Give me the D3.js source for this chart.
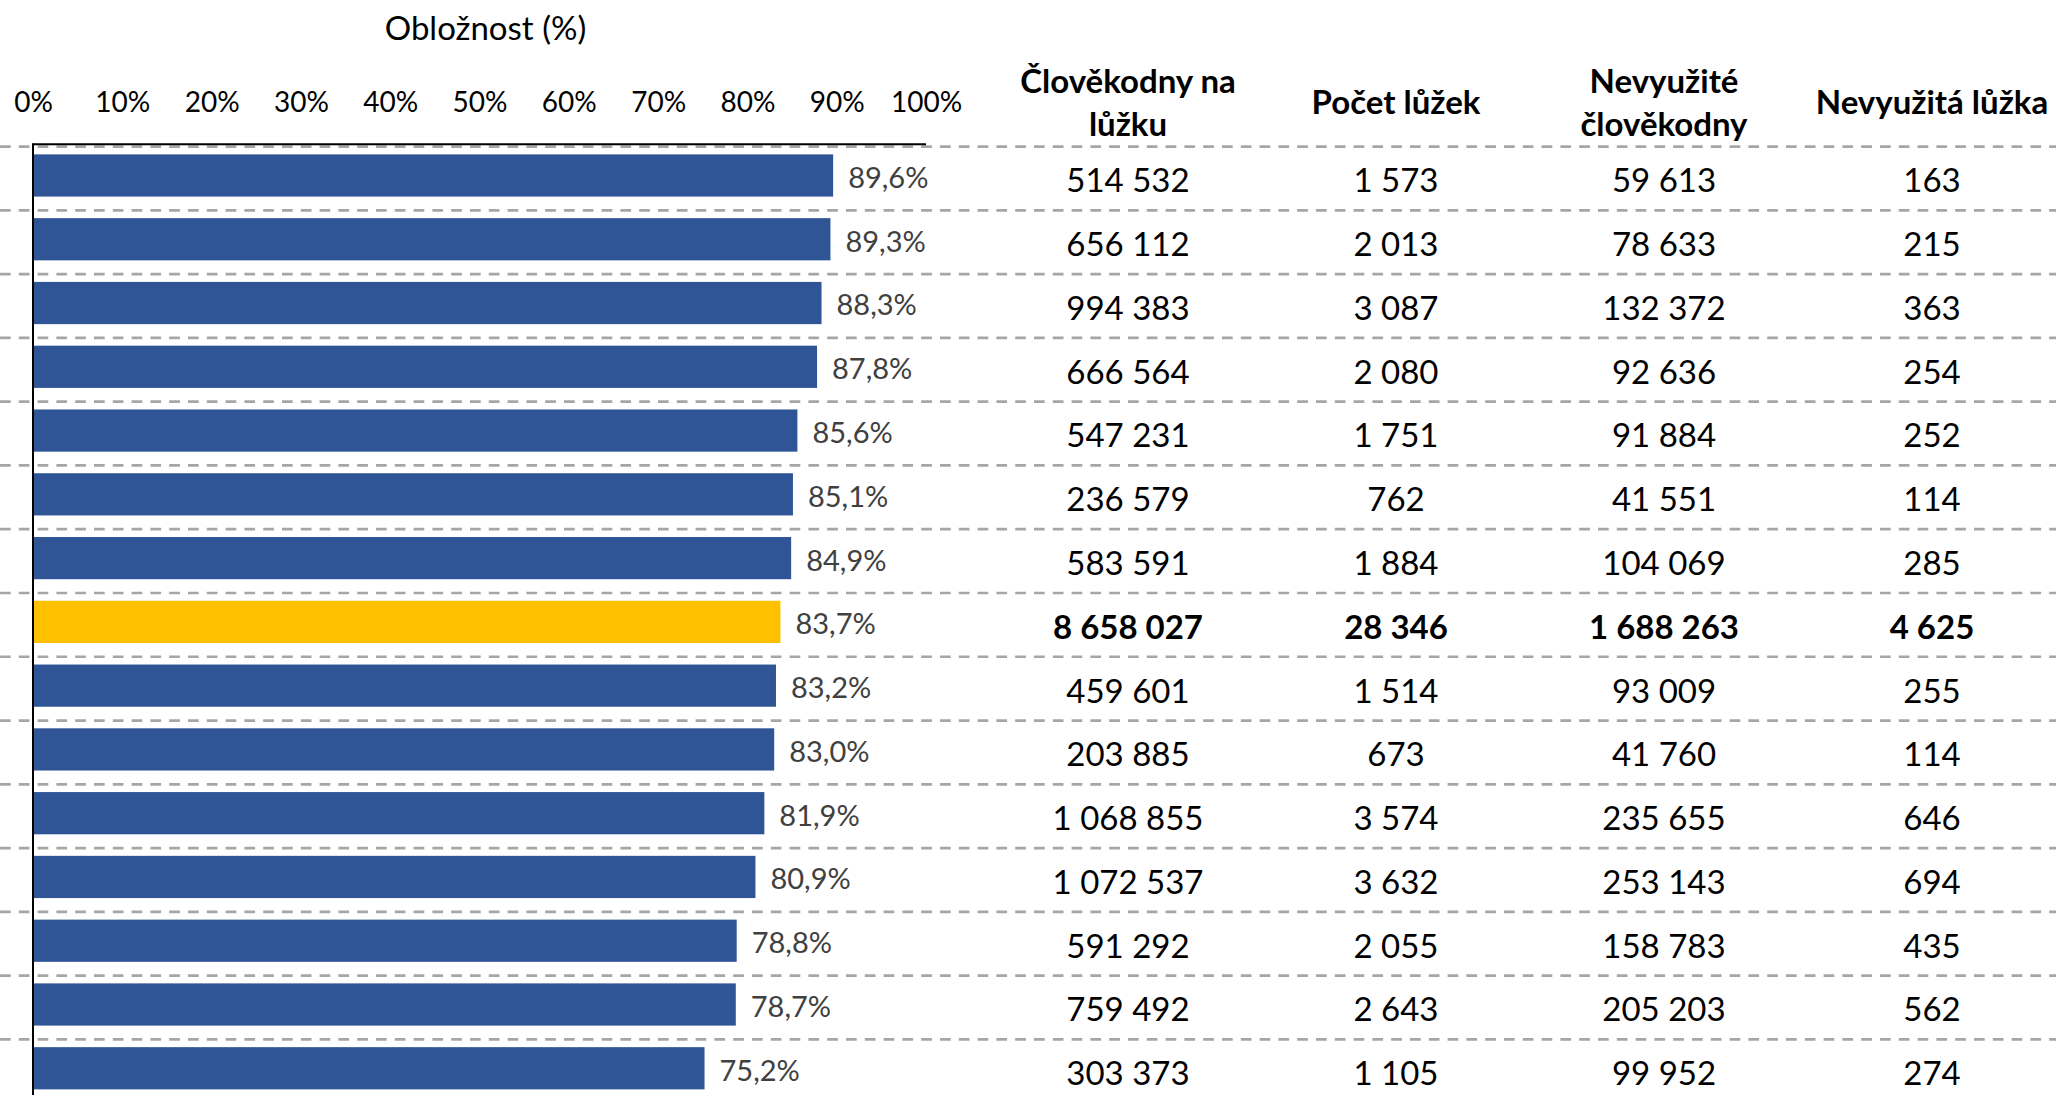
<!DOCTYPE html>
<html>
<head>
<meta charset="utf-8">
<script src="https://cdn.jsdelivr.net/npm/d3@7"></script>
<style>
  body { margin: 0; background: #fff; }
  svg { display: block; font-family: Lato, "Open Sans", sans-serif; }
</style>
</head>
<body>
<svg width="2056" height="1095"></svg>
<script>
// rows of the table (names are not shown in the picture), index 7 is the total
var radky = ["r1", "r2", "r3", "r4", "r5", "r6", "r7", "celkem", "r9", "r10", "r11", "r12", "r13", "r14", "r15"];
var oblozenost = [89.6, 89.3, 88.3, 87.8, 85.6, 85.1, 84.9, 83.7, 83.2, 83.0, 81.9, 80.9, 78.8, 78.7, 75.2];
var clovekodny = [514532, 656112, 994383, 666564, 547231, 236579, 583591, 8658027, 459601, 203885, 1068855, 1072537, 591292, 759492, 303373];
var pocetLuzek = [1573, 2013, 3087, 2080, 1751, 762, 1884, 28346, 1514, 673, 3574, 3632, 2055, 2643, 1105];
var nevyuziteCd = [59613, 78633, 132372, 92636, 91884, 41551, 104069, 1688263, 93009, 41760, 235655, 253143, 158783, 205203, 99952];
var nevyuzitaLuzka = [163, 215, 363, 254, 252, 114, 285, 4625, 255, 114, 646, 694, 435, 562, 274];
var celkem = "celkem";

var xTicks = [0, 10, 20, 30, 40, 50, 60, 70, 80, 90, 100];
var sloupce = [["Člověkodny na", "lůžku"], ["Počet lůžek"], ["Nevyužité", "člověkodny"], ["Nevyužitá lůžka"]];
var hodnoty = [clovekodny, pocetLuzek, nevyuziteCd, nevyuzitaLuzka];

var svg = d3.select("svg");
var W = 2056, H = 1095;

var x = d3.scaleLinear()
    .domain([0, 100])
    .range([33, 926]);

var y = d3.scaleBand()
    .domain(radky)
    .range([143.6, 143.6 + 15 * 63.77])
    .paddingInner(0.338)
    .paddingOuter(0.169);

var col = d3.scalePoint()
    .domain(d3.range(sloupce.length))
    .range([1128, 1932]);

// thousands separated by space
var fmt = function(v) { return d3.format(",")(v).replace(/,/g, "\u00a0"); };
var fmtPct = function(v) { return d3.format(".1f")(v).replace(".", ",") + "%"; };

// dashed row separators
svg.append("g")
    .selectAll("line")
    .data(radky)
    .enter()
    .append("line")
    .attr("x1", 0)
    .attr("x2", W)
    .attr("y1", function(d) { return y(d) - y.step() * 0.169 + 3; })
    .attr("y2", function(d) { return y(d) - y.step() * 0.169 + 3; })
    .attr("stroke", "#a6a6a6")
    .attr("stroke-width", 2.7)
    .attr("stroke-dasharray", "10.7,8.1");

// title
svg.append("text")
    .attr("x", x(50) + 6)
    .attr("y", 40)
    .attr("text-anchor", "middle")
    .style("font-size", "33px")
    .attr("fill", "#000")
    .text("Obložnost (%)");

// x axis on top
var axis = svg.append("g")
    .attr("transform", "translate(0," + y.range()[0] + ")")
    .call(d3.axisTop(x).tickValues(xTicks).tickSize(0).tickPadding(32)
        .tickFormat(function(d) { return d + "%"; }));
axis.select(".domain").remove();
axis.selectAll("text")
    .style("font-size", "28px")
    .style("font-family", "Lato, sans-serif")
    .attr("fill", "#000");

svg.append("line")
    .attr("x1", x(0)).attr("x2", x(100))
    .attr("y1", 144.3).attr("y2", 144.3)
    .attr("stroke", "#000")
    .attr("stroke-width", 2);

// bars
svg.selectAll("rect.bar")
    .data(radky)
    .enter()
    .append("rect")
    .attr("class", "bar")
    .attr("x", x(0))
    .attr("y", function(d) { return y(d); })
    .attr("width", function(d, i) { return x(oblozenost[i]) - x(0); })
    .attr("height", y.bandwidth())
    .attr("fill", function(d) { return d === celkem ? "#ffc000" : "#2f5597"; });

// bar labels
svg.selectAll("text.lbl")
    .data(radky)
    .enter()
    .append("text")
    .attr("class", "lbl")
    .attr("x", function(d, i) { return x(oblozenost[i]) + 15; })
    .attr("y", function(d) { return y(d) + y.bandwidth() / 2 + 2; })
    .attr("dy", "0.36em")
    .style("font-size", "29px")
    .attr("fill", "#404040")
    .text(function(d, i) { return fmtPct(oblozenost[i]); });

// left axis line
svg.append("line")
    .attr("x1", x(0)).attr("x2", x(0))
    .attr("y1", 143.3).attr("y2", H)
    .attr("stroke", "#000")
    .attr("stroke-width", 2);

// column headers
sloupce.forEach(function(lines, c) {
    var t = svg.append("text")
        .attr("text-anchor", "middle")
        .style("font-size", "33px")
        .style("font-weight", "bold")
        .attr("fill", "#000");
    var y0 = lines.length === 1 ? 114 : 93;
    lines.forEach(function(s, k) {
        t.append("tspan")
            .attr("x", col(c))
            .attr("y", y0 + k * 43)
            .text(s);
    });
});

// table values
hodnoty.forEach(function(vals, c) {
    svg.append("g")
        .selectAll("text")
        .data(radky)
        .enter()
        .append("text")
        .attr("x", col(c))
        .attr("y", function(d) { return y(d) + y.bandwidth() / 2 + 5; })
        .attr("dy", "0.36em")
        .attr("text-anchor", "middle")
        .style("font-size", "33px")
        .style("font-weight", function(d) { return d === celkem ? "bold" : "normal"; })
        .attr("fill", "#000")
        .text(function(d, i) { return fmt(vals[i]); });
});
</script>
</body>
</html>
